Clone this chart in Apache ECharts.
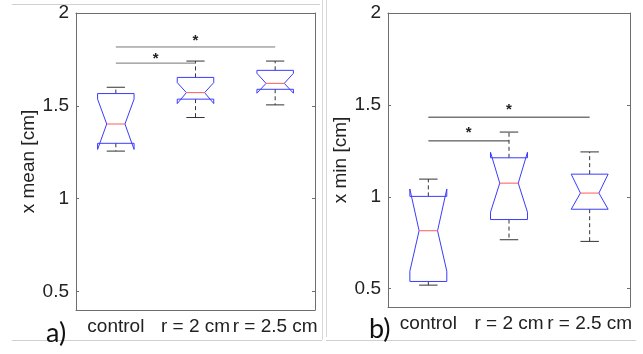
<!DOCTYPE html>
<html>
<head>
<meta charset="utf-8">
<script src="https://cdn.jsdelivr.net/npm/echarts@6/dist/echarts.min.js"></script>
<style>
  html, body { margin: 0; padding: 0; background: #fff; }
  #chart { width: 643px; height: 354px; }
</style>
</head>
<body>
<div id="chart"></div>
<script>
var categories = ['control', 'r = 2 cm', 'r = 2.5 cm']
var yTicks = [0.5, 1, 1.5, 2]

// per box: whisker low, q1, notch low, median, notch high, q3, whisker high
var meanBoxes = [
  [1.256, 1.298, 1.265, 1.402, 1.536, 1.566, 1.600],
  [1.437, 1.536, 1.512, 1.571, 1.625, 1.653, 1.741],
  [1.505, 1.589, 1.568, 1.621, 1.675, 1.691, 1.741]
]
var minBoxes = [
  [0.519, 0.539, 0.595, 0.815, 1.042, 1.002, 1.096],
  [0.766, 0.876, 0.916, 1.074, 1.242, 1.212, 1.352],
  [0.757, 0.932, 0.932, 1.020, 1.123, 1.123, 1.244]
]
// significance bars: from, to, bar level, star level
var meanSig = [[0, 1, 1.730, 1.776], [0, 2, 1.817, 1.871]]
var minSig = [[0, 1, 1.304, 1.367], [0, 2, 1.433, 1.495]]

var font = 'Liberation Sans, Arial, sans-serif'
var axisColor = '#6e6e6e'
var textColor = '#222'

function renderBox(params, api) {
  var i = api.value(0)
  var band = api.coord([1, 0])[0] - api.coord([0, 0])[0]
  var w = band * 0.229
  var cx = api.coord([i, 0])[0]
  var y = function (k) { return api.coord([i, api.value(k)])[1] }
  var wl = y(1), q1 = y(2), nl = y(3), md = y(4), nh = y(5), q3 = y(6), wh = y(7)
  var dash = { stroke: '#333', lineWidth: 1, lineDash: [4, 3] }
  var solid = { stroke: '#333', lineWidth: 1 }
  return {
    type: 'group',
    children: [
      { type: 'line', shape: { x1: cx, y1: q3, x2: cx, y2: wh }, style: dash },
      { type: 'line', shape: { x1: cx, y1: q1, x2: cx, y2: wl }, style: dash },
      { type: 'line', shape: { x1: cx - w / 2, y1: wh, x2: cx + w / 2, y2: wh }, style: solid },
      { type: 'line', shape: { x1: cx - w / 2, y1: wl, x2: cx + w / 2, y2: wl }, style: solid },
      {
        type: 'polygon',
        shape: {
          points: [
            [cx - w, q3], [cx + w, q3], [cx + w, nh], [cx + w / 2, md],
            [cx + w, nl], [cx + w, q1], [cx - w, q1], [cx - w, nl],
            [cx - w / 2, md], [cx - w, nh]
          ]
        },
        style: { fill: 'none', stroke: '#3b3bff', lineWidth: 1 }
      },
      { type: 'line', shape: { x1: cx - w / 2, y1: md, x2: cx + w / 2, y2: md }, style: { stroke: '#ff5a5a', lineWidth: 1 } }
    ]
  }
}

function makeSigRenderer(color) {
  return function (params, api) {
    var a = api.coord([api.value(0), api.value(2)])
    var b = api.coord([api.value(1), api.value(2)])
    var sy = api.coord([api.value(0), api.value(3)])[1]
    var sx = (a[0] + b[0]) / 2
    return {
      type: 'group',
      children: [
        { type: 'line', shape: { x1: a[0], y1: a[1], x2: b[0], y2: b[1] }, style: { stroke: color, lineWidth: 1 } },
        { type: 'text', style: { text: '*', x: sx, y: sy + 4, align: 'center', verticalAlign: 'middle', fontSize: 15, fontWeight: 'bold', fontFamily: font, fill: '#222' } }
      ]
    }
  }
}

function axesFor(gridIndex, name) {
  var xs = [
    {
      type: 'category', gridIndex: gridIndex, data: categories, position: 'bottom',
      axisLine: { lineStyle: { color: axisColor } },
      axisTick: { inside: true, alignWithLabel: true, length: 3, lineStyle: { color: axisColor } },
      axisLabel: { color: textColor, fontSize: 19, fontFamily: font, margin: 7, interval: 0 }
    },
    {
      type: 'category', gridIndex: gridIndex, data: categories, position: 'top',
      axisLine: { lineStyle: { color: axisColor } },
      axisTick: { inside: true, alignWithLabel: true, length: 3, lineStyle: { color: axisColor } },
      axisLabel: { show: false }
    }
  ]
  var ys = [
    {
      type: 'value', gridIndex: gridIndex, min: 0.4, max: 2, position: 'left',
      name: name, nameLocation: 'middle', nameGap: 38,
      nameTextStyle: { color: textColor, fontSize: 19, fontFamily: font },
      axisLine: { show: true, lineStyle: { color: axisColor } },
      axisTick: { show: true, inside: true, length: 3, customValues: yTicks, lineStyle: { color: axisColor } },
      axisLabel: { customValues: yTicks, color: textColor, fontSize: 19, fontFamily: font, margin: 7 },
      splitLine: { show: false }
    },
    {
      type: 'value', gridIndex: gridIndex, min: 0.4, max: 2, position: 'right',
      axisLine: { show: true, lineStyle: { color: axisColor } },
      axisTick: { show: true, inside: true, length: 3, customValues: yTicks, lineStyle: { color: axisColor } },
      axisLabel: { show: false },
      splitLine: { show: false }
    }
  ]
  return { xs: xs, ys: ys }
}

var a = axesFor(0, 'x mean [cm]')
var b = axesFor(1, 'x min [cm]')

var chart = echarts.init(document.getElementById('chart'), null, { renderer: 'canvas' })
var option = {
  backgroundColor: '#fff',
  animation: false,
  grid: [
    { left: 76, top: 13, width: 239, height: 297 },
    { left: 388, top: 13, width: 242, height: 294 }
  ],
  xAxis: a.xs.concat(b.xs),
  yAxis: a.ys.concat(b.ys),
  series: [
    {
      type: 'custom', xAxisIndex: 0, yAxisIndex: 0,
      data: meanBoxes.map(function (v, i) { return [i].concat(v) }),
      renderItem: renderBox
    },
    {
      type: 'custom', xAxisIndex: 0, yAxisIndex: 0,
      data: meanSig,
      renderItem: makeSigRenderer('#777')
    },
    {
      type: 'custom', xAxisIndex: 2, yAxisIndex: 2,
      data: minBoxes.map(function (v, i) { return [i].concat(v) }),
      renderItem: renderBox
    },
    {
      type: 'custom', xAxisIndex: 2, yAxisIndex: 2,
      data: minSig,
      renderItem: makeSigRenderer('#333')
    }
  ],
  graphic: [
    { type: 'line', shape: { x1: 12, y1: 4.5, x2: 320, y2: 4.5 }, style: { stroke: '#d0d0d0', lineWidth: 1 } },
    { type: 'line', shape: { x1: 12, y1: 340.5, x2: 322, y2: 340.5 }, style: { stroke: '#d0d0d0', lineWidth: 1 } },
    { type: 'line', shape: { x1: 322.5, y1: 0, x2: 322.5, y2: 340 }, style: { stroke: '#d8d8d8', lineWidth: 1 } },
    { type: 'line', shape: { x1: 326.5, y1: 0, x2: 326.5, y2: 337 }, style: { stroke: '#d8d8d8', lineWidth: 1 } },
    { type: 'line', shape: { x1: 326, y1: 340.5, x2: 636, y2: 340.5 }, style: { stroke: '#d0d0d0', lineWidth: 1 } },
    { type: 'text', left: 46, top: 320, style: { text: 'a)', fontSize: 27, fontFamily: 'Lato, Open Sans, sans-serif', fill: '#111' } },
    { type: 'text', left: 369, top: 316, style: { text: 'b)', fontSize: 27, fontFamily: 'Lato, Open Sans, sans-serif', fill: '#111' } }
  ]
}
chart.setOption(option)
</script>
</body>
</html>
